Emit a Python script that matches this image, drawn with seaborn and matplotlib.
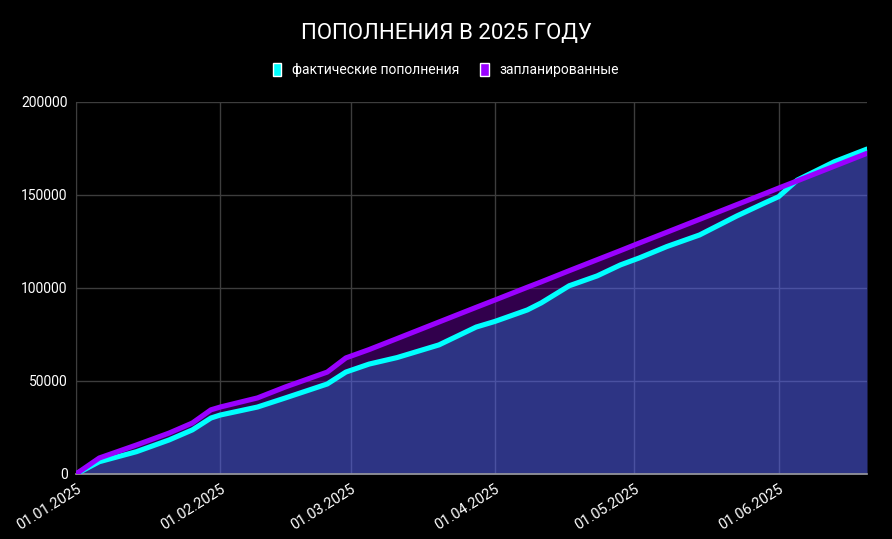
import pandas as pd
import numpy as np
import matplotlib.pyplot as plt
import matplotlib.dates as mdates
from matplotlib.patches import Patch
import seaborn as sns

dates = ['2025-01-01', '2025-01-06', '2025-01-14', '2025-01-21', '2025-01-26',
         '2025-01-30', '2025-02-01', '2025-02-09', '2025-02-15', '2025-02-24',
         '2025-02-28', '2025-03-05', '2025-03-11', '2025-03-20', '2025-03-28',
         '2025-04-01', '2025-04-08', '2025-04-11', '2025-04-17', '2025-04-23',
         '2025-04-28', '2025-05-02', '2025-05-08', '2025-05-15', '2025-05-23',
         '2025-05-29', '2025-06-01', '2025-06-05', '2025-06-13', '2025-06-20']
actual = [0, 6600, 12000, 18300, 23700,
          30100, 31700, 36000, 40900, 48400,
          54800, 59100, 62600, 69400, 79000,
          82000, 88200, 92000, 101200, 106500,
          112400, 116100, 122300, 128500, 138700,
          145700, 149100, 158000, 167900, 174700]
planned = [0, 8600, 15600, 22000, 27400,
           34500, 36000, 40900, 46800, 54800,
           62400, 66900, 72800, 81700, 89600,
           93500, 100400, 103300, 109300, 115200,
           120100, 124100, 130000, 136900, 144800,
           150700, 153700, 157600, 165500, 172400]
month_ticks = ['2025-01-01', '2025-02-01', '2025-03-01', '2025-04-01', '2025-05-01', '2025-06-01']

df = pd.DataFrame({'date': pd.to_datetime(dates), 'actual': actual, 'planned': planned})

sns.set_style('dark')
plt.rcParams['font.family'] = ['Roboto', 'DejaVu Sans']

fig = plt.figure(figsize=(8.92, 5.39), dpi=100, facecolor='black')
ax = fig.add_axes([0.0852, 0.1206, 0.8868, 0.6902])
ax.set_facecolor('black')

x = mdates.date2num(df['date'])
a = df['actual'].values
p = df['planned'].values

# fills under the lines
ax.fill_between(x, 0, a, color='#5764fb', alpha=0.53, linewidth=0, zorder=1)
ax.fill_between(x, a, p, where=p > a, interpolate=True, color='#620098', alpha=0.5, linewidth=0, zorder=1)

sns.lineplot(x=x, y=a, ax=ax, color='#00ffff', linewidth=3.7, zorder=3,
             solid_joinstyle='round', solid_capstyle='round')
sns.lineplot(x=x, y=p, ax=ax, color='#9900ff', linewidth=3.7, zorder=4,
             solid_joinstyle='round', solid_capstyle='round')

ax.set_xlim(x[0], x[-1])
ax.set_ylim(0, 200000)
ax.set_yticks([0, 50000, 100000, 150000, 200000])
ax.set_yticklabels(['0', '50000', '100000', '150000', '200000'])
tick_pos = mdates.date2num(pd.to_datetime(month_ticks))
ax.set_xticks(tick_pos)
ax.set_xticklabels(pd.to_datetime(month_ticks).strftime('%d.%m.%Y'), rotation=32, ha='right',
                   rotation_mode='anchor')

ax.grid(True, color='#3d3d3d', linewidth=1, zorder=0)
ax.set_axisbelow(True)
ax.tick_params(colors='white', labelsize=10, length=0, pad=6)
ax.tick_params(axis='x', labelsize=10.5)
for s in ['top', 'right']:
    ax.spines[s].set_visible(False)
ax.spines['left'].set_color('#3d3d3d')
ax.spines['bottom'].set_color('#9a9a9a')
ax.spines['bottom'].set_linewidth(1.2)

fig.text(0.5, 0.938, 'ПОПОЛНЕНИЯ В 2025 ГОДУ', color='white', fontsize=16, ha='center', va='center')
handles = [Patch(facecolor='#00ffff', label='фактические пополнения'),
           Patch(facecolor='#9900ff', label='запланированные')]
fig.legend(handles=handles, loc='center', bbox_to_anchor=(0.5, 0.87), ncol=2, frameon=False,
           fontsize=10, labelcolor='white', handlelength=0.6, handleheight=1.1,
           handletextpad=0.8, columnspacing=1.5)

fig.savefig('out.png', dpi=100, facecolor='black')
